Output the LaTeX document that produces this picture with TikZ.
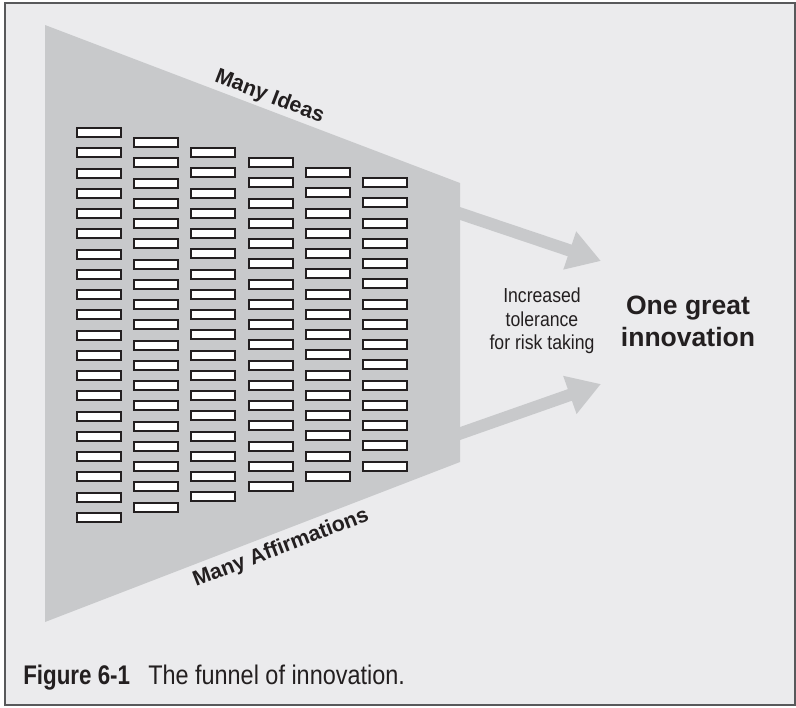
\documentclass[tikz,border=0pt]{standalone}
\usepackage{fontspec}
\setmainfont{Liberation Sans}
\newfontfamily\condfont[FakeStretch=0.87]{Liberation Sans}
\newfontfamily\condbold[FakeStretch=0.83]{Liberation Sans Bold}
\usetikzlibrary{arrows.meta}
\definecolor{paper}{HTML}{EBEBED}
\definecolor{funnelgray}{HTML}{C8C9CB}
\definecolor{ink}{HTML}{231F20}
\definecolor{framegray}{HTML}{58595B}
\begin{document}
\begin{tikzpicture}[x=0.75pt,y=-0.75pt,
  idea/.style={shape=rectangle, draw=ink, fill=white, line width=1.5pt,
    minimum width=33pt, minimum height=6.75pt, inner sep=0pt},
  flow/.style={draw=funnelgray, line width=9.2pt,
    -{Triangle[length=24.75pt,width=28.5pt]}},
  sidelabel/.style={inner sep=0pt, anchor=base, text=ink,
    font=\bfseries\fontsize{16}{19}\selectfont},
  caption/.style={inner sep=0pt, anchor=base west, text=ink}
]
\useasboundingbox (0,0) rectangle (796,707);

% panel
\fill[white] (0,0) rectangle (796,707);
\draw[framegray, fill=paper, line width=1.5pt] (5,3) rectangle (795,705);

% output arrows leaving the funnel
\coordinate (top-out) at (441,207.1);
\coordinate (top-tip) at (601,261);
\coordinate (bot-out) at (441,440.2);
\coordinate (bot-tip) at (601,384);
\draw[flow] (top-out) -- (top-tip);
\draw[flow] (bot-out) -- (bot-tip);

% funnel body
\fill[funnelgray] (45,25) -- (460,183) -- (460,462) -- (45,622) -- cycle;

% columns of ideas, each one shorter and lower than the last
\foreach \c in {0,...,5}{
  \pgfmathtruncatemacro{\rows}{19-\c}
  \foreach \r in {0,...,\rows}{
    \node[idea] (idea-\c-\r) at ({76+57.2*\c+23}, {127+10*\c+20.25*\r+5.5}) {};
  }
}

% labels along the funnel edges
\node[sidelabel, rotate=-21] (ideas) at (267.5,102) {Many Ideas};
\node[sidelabel, rotate=21] (affirm) at (283,553.5) {Many Affirmations};

% centre texts
\node[align=center, text=ink, inner sep=0pt,
  font=\condfont\fontsize{15.2}{17.6}\selectfont] (risk) at (542,321)
  {Increased\\tolerance\\for risk taking};
\node[align=center, text=ink, inner sep=0pt,
  font=\bfseries\fontsize{19.9}{24}\selectfont] (goal) at (688,321)
  {One great\\innovation};

% caption
\node[caption, font=\condbold\fontsize{20.2}{24}\selectfont] (figno) at (23,684) {Figure 6-1};
\node[caption, font=\condfont\fontsize{20.2}{24}\selectfont] (figtext) at (148,684) {The funnel of innovation.};
\end{tikzpicture}
\end{document}
